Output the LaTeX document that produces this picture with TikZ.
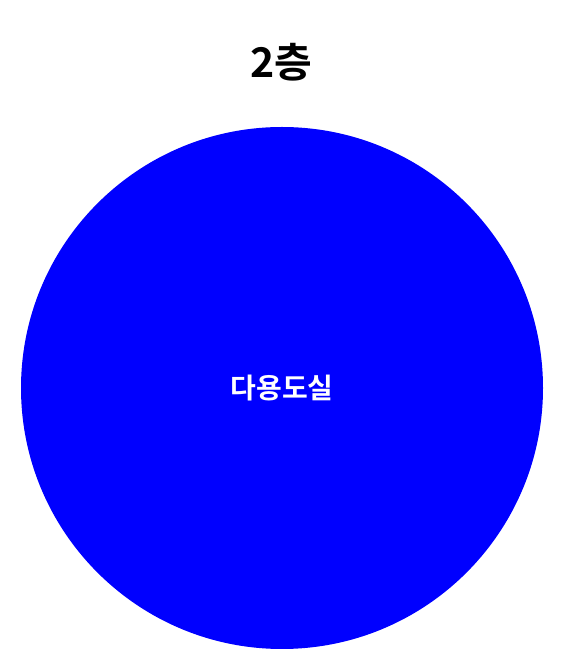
\documentclass[tikz,border=0pt]{standalone}
\usepackage{fontspec}
\newfontfamily\krfont{Noto Sans CJK KR}[BoldFont={* Bold}]
\usepackage{xcolor}
\definecolor{RoomBlue}{HTML}{0000FF}
\tikzset{%
  floortitle/.style={font=\krfont\bfseries\fontsize{41}{45}\selectfont,text=black},
  roomdisc/.style={circle,fill=RoomBlue,draw=none,minimum size=522pt,inner sep=0pt},
  roomlabel/.style={font=\krfont\bfseries\fontsize{28}{32}\selectfont,text=white}
}
\begin{document}
\begin{tikzpicture}[x=1pt,y=1pt]
  \useasboundingbox (0,0) rectangle (564,670);
  \node[floortitle] (title) at (281,608) {2층};
  \node[roomdisc] (room) at (282,282) {};
  \node[roomlabel] (roomname) at (room.center) {다용도실};
\end{tikzpicture}
\end{document}
